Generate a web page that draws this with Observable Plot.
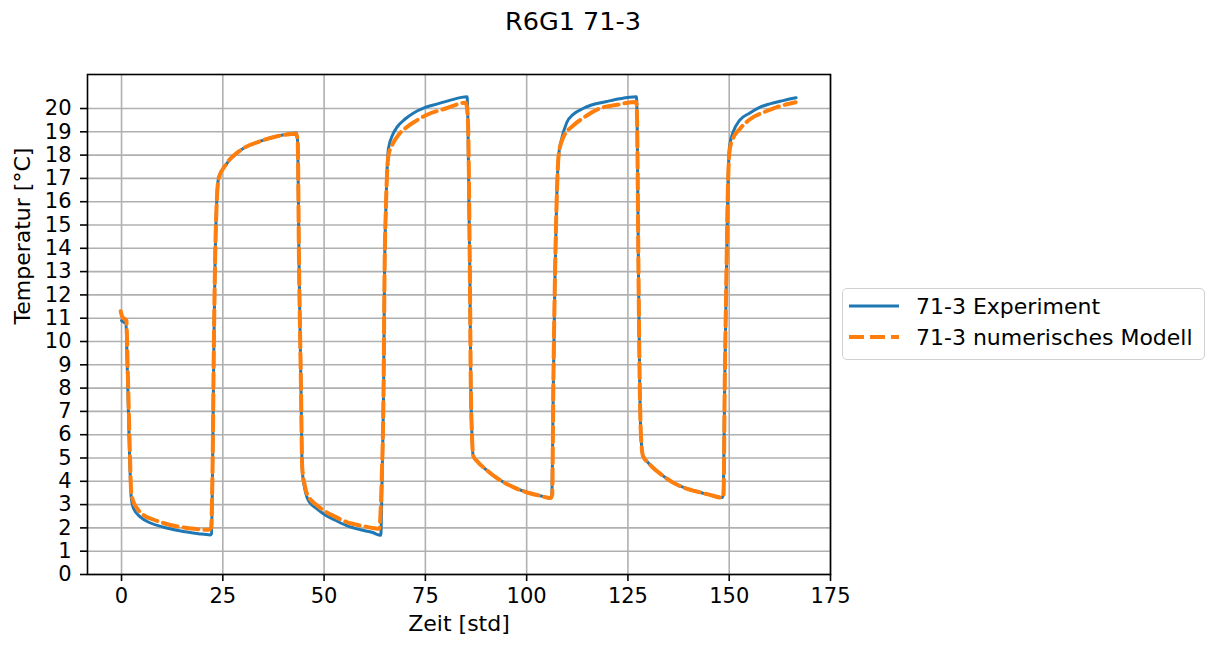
<!DOCTYPE html>
<html>
<head>
<meta charset="utf-8">
<script src="https://cdn.jsdelivr.net/npm/d3@7"></script>
<script src="https://cdn.jsdelivr.net/npm/@observablehq/plot@0.6"></script>
<style>
  html, body { margin: 0; padding: 0; background: #fff; }
  body { width: 1218px; height: 648px; position: relative; overflow: hidden; font-family: "DejaVu Sans", sans-serif; }
  #title { position: absolute; left: 0; width: 1146px; top: 6px; text-align: center; font-size: 25.5px; color: #000; }
  #chart { position: absolute; left: 0; top: 50px; }
  #legend { position: absolute; left: 842px; top: 288px; width: 361px; height: 70px; border: 1px solid #d0d0d0; border-radius: 5px; background: #fff; font-size: 22px; color: #000; }
  .row { position: absolute; left: 0; height: 30px; display: flex; align-items: center; white-space: nowrap; }
  .row svg { margin-left: 6px; margin-right: 17px; }
</style>
</head>
<body>
<div id="title">R6G1 71-3</div>
<div id="chart"></div>
<div id="legend"></div>
<script>
// ---- data ----
const expTime = [0, 0.5, 1.1, 1.4, 1.7, 2.0, 2.4, 3.0, 4.7, 7.0, 10.4, 13.0, 16.2, 19.0, 21.9,
  22.2, 22.5, 22.8, 23.1, 23.5, 24.0, 25.6, 29.3, 34.3, 39.2, 43.2,
  43.5, 43.8, 44.3, 44.6, 45.2, 45.8, 46.5, 48.0, 49.9, 52.5, 55.6, 59.0, 62.0, 64.0,
  64.3, 64.7, 64.9, 65.3, 65.9, 67.0, 68.0, 70.0, 72.0, 75.0, 78.0, 81.0, 85.3,
  85.5, 86.0, 86.2, 86.5, 86.8, 88.0, 90.0, 93.0, 96.7, 100.0, 103.3, 105.9,
  106.2, 106.6, 107.0, 107.4, 107.9, 108.5, 109.9, 111.5, 113.9, 116.0, 119.7, 123.0, 127.1,
  127.3, 127.6, 127.9, 128.2, 128.7, 130.0, 131.2, 133.0, 136.1, 139.0, 142.7, 145.0, 148.2,
  148.5, 148.9, 149.3, 149.6, 150.1, 151.0, 152.6, 155.0, 157.5, 160.0, 163.3, 166.5];
const expTemp = [10.9, 10.83, 10.76, 9.0, 7.0, 5.0, 3.3, 2.82, 2.46, 2.22, 2.03, 1.92, 1.82, 1.75, 1.7,
  1.75, 5.0, 10.0, 13.5, 16.0, 17.06, 17.55, 18.2, 18.6, 18.84, 18.95,
  18.5, 13.5, 8.0, 4.5, 3.7, 3.3, 3.08, 2.85, 2.6, 2.35, 2.1, 1.92, 1.8, 1.68,
  4.0, 8.3, 12.6, 16.0, 18.3, 18.9, 19.2, 19.55, 19.8, 20.05, 20.2, 20.35, 20.5,
  19.5, 12.6, 8.3, 6.0, 5.1, 4.82, 4.5, 4.1, 3.75, 3.53, 3.38, 3.28,
  3.4, 8.3, 12.9, 16.0, 18.0, 18.6, 19.4, 19.75, 20.0, 20.15, 20.3, 20.42, 20.5,
  19.0, 13.0, 8.3, 6.0, 5.1, 4.8, 4.58, 4.32, 3.95, 3.72, 3.53, 3.43, 3.3,
  3.4, 8.3, 12.76, 16.0, 18.4, 19.0, 19.5, 19.8, 20.05, 20.2, 20.34, 20.46];

const modelTime = [-0.2, 0.2, 1.2, 1.5, 1.8, 2.1, 2.4, 3.0, 4.0, 5.9, 8.0, 10.5, 15.3, 18.0, 21.5,
  22.1, 22.5, 22.8, 23.1, 23.5, 24.0, 25.6, 29.3, 34.3, 39.2, 43.1,
  43.5, 43.8, 44.3, 44.6, 45.2, 45.8, 46.5, 48.0, 49.9, 52.5, 55.6, 59.0, 62.0, 63.6,
  64.2, 64.7, 64.9, 65.3, 65.9, 67.0, 68.5, 70.4, 72.5, 75.0, 80.0, 85.0,
  85.5, 86.0, 86.2, 86.5, 86.8, 88.0, 90.0, 93.0, 96.7, 100.0, 103.3, 105.9,
  106.3, 106.6, 107.0, 107.4, 107.9, 109.0, 111.5, 114.0, 118.0, 122.0, 127.1,
  127.3, 127.6, 127.9, 128.2, 128.7, 130.0, 131.2, 133.0, 136.1, 139.0, 142.7, 145.0, 148.2,
  148.6, 148.9, 149.3, 149.6, 150.1, 150.9, 152.5, 155.9, 158.0, 161.6, 166.4];
const modelTemp = [11.3, 11.05, 10.9, 9.0, 7.0, 5.0, 3.5, 3.1, 2.8, 2.5, 2.35, 2.2, 2.02, 1.96, 1.92,
  2.0, 5.0, 10.0, 13.5, 16.0, 17.0, 17.55, 18.2, 18.6, 18.84, 18.92,
  18.5, 13.5, 8.0, 4.6, 3.85, 3.45, 3.25, 3.0, 2.75, 2.5, 2.25, 2.1, 2.0, 1.96,
  4.0, 8.3, 12.6, 16.0, 18.0, 18.5, 18.9, 19.2, 19.45, 19.7, 20.0, 20.25,
  19.5, 12.6, 8.3, 6.0, 5.1, 4.82, 4.5, 4.1, 3.75, 3.53, 3.38, 3.28,
  3.4, 8.3, 12.9, 16.0, 18.0, 18.75, 19.27, 19.6, 20.0, 20.15, 20.28,
  19.0, 13.0, 8.3, 6.0, 5.1, 4.8, 4.58, 4.32, 3.95, 3.72, 3.53, 3.43, 3.3,
  3.4, 8.3, 12.76, 16.0, 18.2, 18.7, 19.1, 19.63, 19.8, 20.05, 20.27];

const xTicks = [0, 25, 50, 75, 100, 125, 150, 175];
const yTicks = [0,1,2,3,4,5,6,7,8,9,10,11,12,13,14,15,16,17,18,19,20];
const seriesNames = ["71-3 Experiment", "71-3 numerisches Modell"];
const seriesColors = ["#1f77b4", "#ff7f0e"];

const experiment = expTime.map((t, i) => ({t, v: expTemp[i]}));
const model = modelTime.map((t, i) => ({t, v: modelTemp[i]}));

const plot = Plot.plot({
  width: 1218,
  height: 598,
  marginLeft: 87,
  marginRight: 388,
  marginTop: 24,
  marginBottom: 74,
  style: {fontFamily: "DejaVu Sans, sans-serif", fontSize: "21px", color: "#000", background: "#fff", overflow: "visible"},
  x: {domain: [-8.4, 175]},
  y: {domain: [0, 21.46]},
  marks: [
    Plot.gridX(xTicks, {stroke: "#b0b0b0", strokeOpacity: 1, strokeWidth: 1.6}),
    Plot.gridY(yTicks, {stroke: "#b0b0b0", strokeOpacity: 1, strokeWidth: 1.6}),
    Plot.line(experiment, {x: "t", y: "v", stroke: seriesColors[0], strokeWidth: 3, curve: "monotone-x"}),
    Plot.line(model, {x: "t", y: "v", stroke: seriesColors[1], strokeWidth: 4, strokeDasharray: "15,6", curve: "monotone-x"}),
    Plot.frame({stroke: "#000", strokeWidth: 1.6}),
    Plot.axisX(xTicks, {tickSize: 7, tickPadding: 7, label: null, stroke: "#000", strokeWidth: 1.6, fill: "#000"}),
    Plot.axisY(yTicks, {tickSize: 7, tickPadding: 9, label: null, stroke: "#000", strokeWidth: 1.6, fill: "#000"}),
    Plot.text(["Zeit [std]"], {text: d => d, frameAnchor: "bottom", dy: 56, fill: "#000", fontSize: 22}),
    Plot.text(["Temperatur [°C]"], {text: d => d, frameAnchor: "left", dx: -65, rotate: -90, fill: "#000", fontSize: 22})
  ]
});
document.getElementById("chart").appendChild(plot);

// legend
const legend = document.getElementById("legend");
seriesNames.forEach((name, i) => {
  const row = document.createElement("div");
  row.className = "row";
  row.style.top = (i === 0 ? 2 : 33) + "px";
  const dash = i === 0 ? "" : ` stroke-dasharray="15,6"`;
  row.innerHTML = `<svg width="50" height="10"><line x1="0" y1="5" x2="50" y2="5" stroke="${seriesColors[i]}" stroke-width="${i === 0 ? 3 : 4}"${dash}/></svg><span>${name}</span>`;
  legend.appendChild(row);
});
</script>
</body>
</html>
